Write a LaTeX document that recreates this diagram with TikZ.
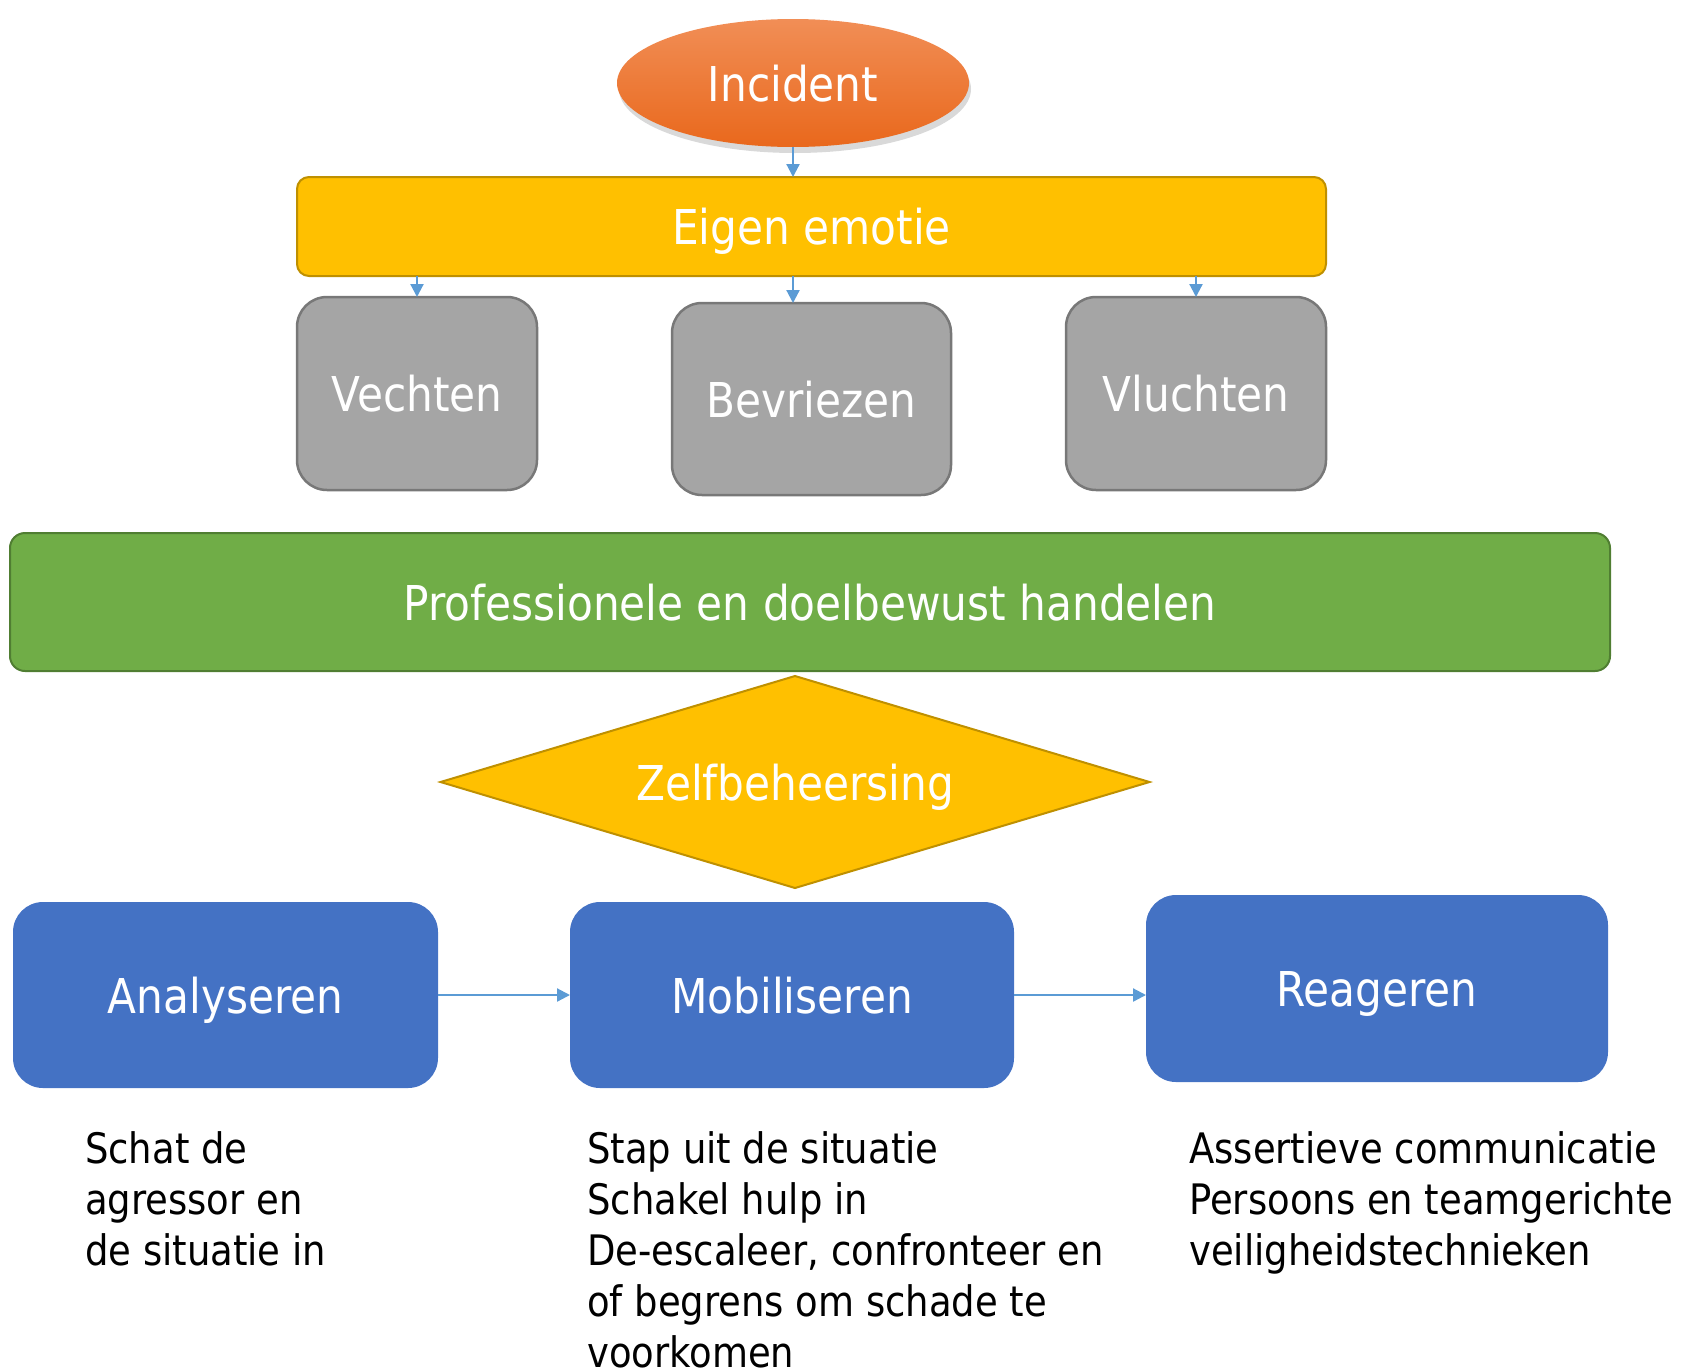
\documentclass[tikz,border=0pt]{standalone}
\usepackage{fontspec}
\setmainfont{DejaVu Sans}[FakeStretch=0.88]
\usetikzlibrary{shapes.geometric,arrows.meta,shadows}
\definecolor{incTop}{RGB}{241,142,86}
\definecolor{incBot}{RGB}{233,104,28}
\definecolor{goldF}{RGB}{255,192,0}
\definecolor{goldD}{RGB}{191,144,0}
\definecolor{greyF}{RGB}{165,165,165}
\definecolor{greyD}{RGB}{120,120,120}
\definecolor{greenF}{RGB}{112,173,71}
\definecolor{greenD}{RGB}{80,126,50}
\definecolor{blueF}{RGB}{68,114,196}
\definecolor{arrowC}{RGB}{91,155,213}
\begin{document}
\begin{tikzpicture}[x=1pt,y=-1pt,
  lbl/.style={font=\fontsize{48}{58}\selectfont, text=white, text depth=0pt, inner sep=0pt, outer sep=0pt},
  greybox/.style={lbl, draw=greyD, line width=2.5pt, fill=greyF, rounded corners=30pt},
  bluebox/.style={lbl, fill=blueF, rounded corners=30pt, minimum height=186pt},
  conn/.style={draw=arrowC, line width=2.2pt, -{Triangle[length=13pt,width=13pt]}},
  body/.style={font=\fontsize{42}{51}\selectfont, align=left, anchor=north west, inner sep=0pt}]
\useasboundingbox (0,0) rectangle (1683,1371);

\node[lbl, ellipse, minimum width=352pt, minimum height=128pt,
  top color=incTop, bottom color=incBot,
  drop shadow={opacity=0.3, shadow xshift=2pt, shadow yshift=-6pt}] (inc) at (793,83) {Incident};

\node[lbl, draw=goldD, line width=2pt, fill=goldF, rounded corners=12pt,
  minimum width=1029pt, minimum height=99pt] (eig) at (811.5,226.5) {Eigen emotie};

\node[greybox, minimum width=240pt, minimum height=193pt] (vec) at (417,393.5) {Vechten};
\node[greybox, minimum width=279pt, minimum height=192pt] (bev) at (811.5,399) {Bevriezen};
\node[greybox, minimum width=260pt, minimum height=193pt] (vlu) at (1196,393.5) {Vluchten};

\node[lbl, draw=greenD, line width=2pt, fill=greenF, rounded corners=15pt,
  minimum width=1600pt, minimum height=138pt] (pro) at (810,602) {Professionele en doelbewust handelen};

\node[lbl, diamond, aspect=3.34, draw=goldD, line width=2pt, fill=goldF,
  minimum width=709pt, minimum height=212pt] (zel) at (795,782) {Zelfbeheersing};

\node[bluebox, minimum width=425pt] (ana) at (225.5,995) {Analyseren};
\node[bluebox, minimum width=444pt] (mob) at (792,995) {Mobiliseren};
\node[bluebox, minimum width=462pt, minimum height=187pt] (rea) at (1377,988.5) {Reageren};

\draw[conn] (inc.south) -- (inc.south |- eig.north);
\draw[conn] (vec.north |- eig.south) -- (vec.north);
\draw[conn] (inc.south |- eig.south) -- (inc.south |- bev.north);
\draw[conn] (vlu.north |- eig.south) -- (vlu.north);
\draw[conn] (ana.east) -- (mob.west);
\draw[conn] (mob.east) -- (mob.east -| rea.west);

\node[body] (t1) at (85,1131) {Schat de\\agressor en\\de situatie in};
\node[body] (t2) at (587,1131) {Stap uit de situatie\\Schakel hulp in\\De-escaleer, confronteer en\\of begrens om schade te\\voorkomen};
\node[body] (t3) at (1189,1131) {Assertieve communicatie\\Persoons en teamgerichte\\veiligheidstechnieken};
\end{tikzpicture}
\end{document}
